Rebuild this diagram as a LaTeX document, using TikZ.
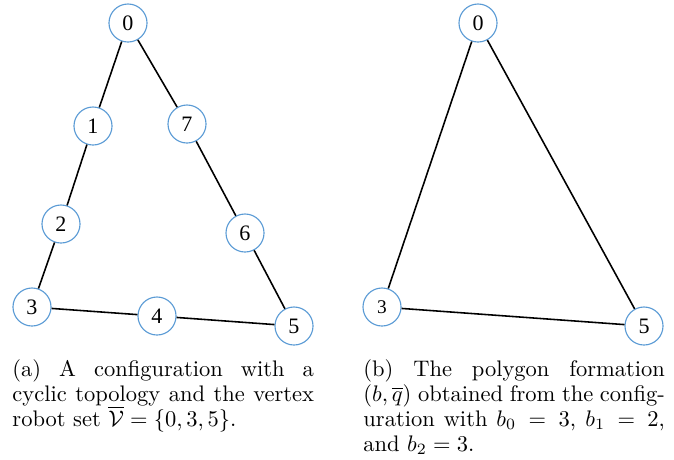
\documentclass[tikz,border=0pt]{standalone}
\usepackage{fontspec}
\newfontfamily\numfont{Liberation Serif}
\definecolor{circblue}{RGB}{91,155,213}
\begin{document}
\begin{tikzpicture}[x=0.4444pt,y=-0.4444pt,
  vert/.style={circle,draw=circblue,line width=0.5pt,minimum size=16.9pt,inner sep=0pt,font=\numfont\fontsize{9.8}{11}\selectfont},
  edge/.style={line width=0.7pt,black},
  captext/.style={anchor=north west,inner sep=0pt,text width=134pt,align=justify,font=\fontsize{10}{11.1}\selectfont}]
\useasboundingbox (0,0) rectangle (674,459);
% left graph
\node[vert] (a0) at (128,23) {0};
\node[vert] (a1) at (93,126) {1};
\node[vert] (a7) at (187,124) {7};
\node[vert] (a2) at (61,224) {2};
\node[vert] (a6) at (245,233) {6};
\node[vert] (a3) at (32,307) {3};
\node[vert] (a4) at (157,316) {4};
\node[vert] (a5) at (294,326) {5};
\draw[edge] (a0) -- (a1) (a1) -- (a2) (a2) -- (a3) (a3) -- (a4) (a4) -- (a5) (a5) -- (a6) (a6) -- (a7) (a7) -- (a0);
% right graph
\node[vert] (b0) at (478,23) {0};
\node[vert,font=\numfont\fontsize{8.6}{10}\selectfont] (b3) at (382,307) {3};
\node[vert] (b5) at (644,326) {5};
\draw[edge] (b0) -- (b3) (b3) -- (b5) (b5) -- (b0);
% captions
\node[captext] (capa) at (12,359) {(a) A configuration with a\linebreak cyclic topology and the vertex\linebreak robot set $\overline{\mathcal{V}}=\{0,3,5\}$.};
\node[captext] (capb) at (363,359) {(b) The polygon formation\linebreak $(b,\overline{q})$ obtained from the config-\linebreak uration with $b_0\,=\,3$, $b_1\,=\,2$,\linebreak and $b_2=3$.};
\end{tikzpicture}
\end{document}
